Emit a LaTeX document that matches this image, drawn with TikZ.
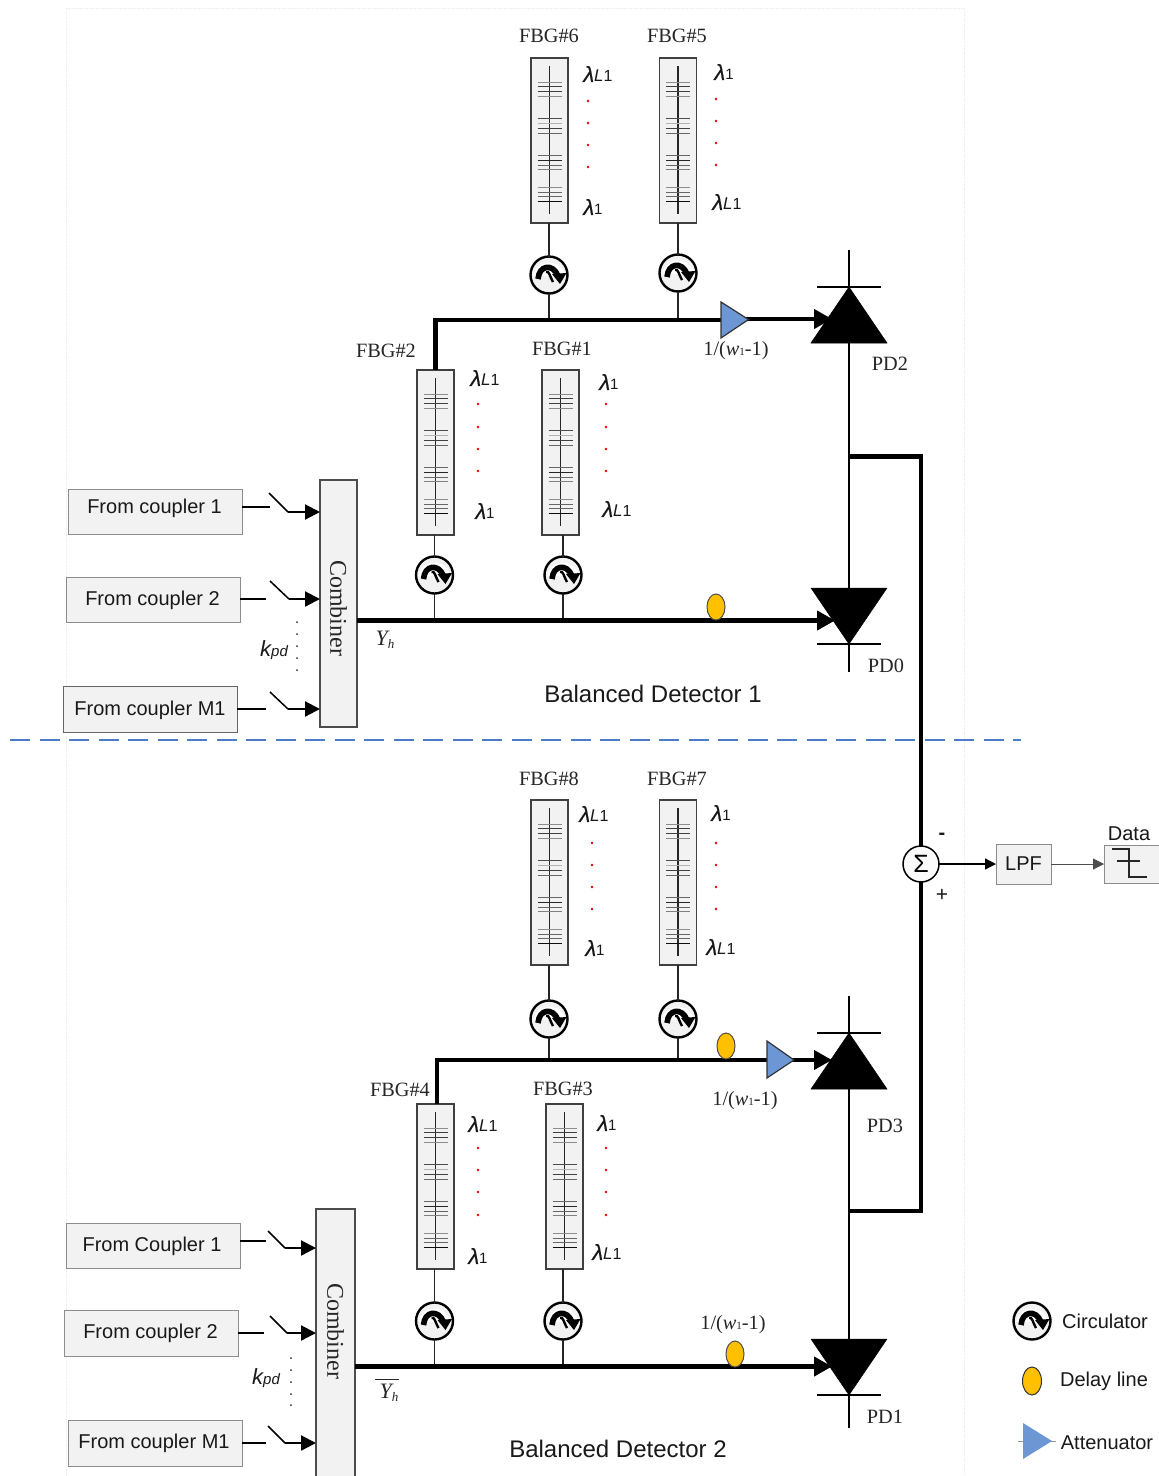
\documentclass[tikz,border=0pt]{standalone}
\usepackage{fontspec}
\setmainfont{Liberation Sans}
\newfontfamily\serifface{Liberation Serif}
\newfontfamily\lamface[FakeBold=0.5]{Liberation Sans Italic}
\usetikzlibrary{arrows.meta,calc}
\definecolor{boxfill}{HTML}{F2F2F2}
\definecolor{boxedge}{HTML}{8C8C8C}
\definecolor{triblue}{HTML}{6C97D4}
\definecolor{dashblue}{HTML}{4A7CC8}
\definecolor{delayfill}{HTML}{FFC000}
\definecolor{framefaint}{HTML}{EDEDED}
\tikzset{
  sanslabel/.style={font=\fontsize{20}{24}\selectfont,inner sep=0pt,text=black!90},
  srctext/.style={sanslabel,yshift=-1.5pt},
  seriflabel/.style={font=\serifface\fontsize{20.3}{24}\selectfont,inner sep=0pt,text=black!85},
  lamlabel/.style={font=\fontsize{20}{24}\selectfont,inner sep=0pt,text=black!90,yshift=1pt},
  fbgbox/.style={draw=black!75,fill=boxfill,line width=1.4pt,minimum width=37pt,minimum height=165pt,inner sep=0pt,outer sep=0pt},
  srcbox/.style={draw=boxedge,fill=boxfill,line width=1pt,minimum width=174pt,minimum height=45pt,inner sep=0pt,outer sep=0pt},
  combbox/.style={draw=black!70,fill=boxfill,line width=1.2pt,inner sep=0pt,outer sep=0pt},
  combtext/.style={inner sep=0pt,rotate=-90,text=black!85,font=\serifface\fontsize{24}{28}\selectfont},
  circbody/.style={circle,draw=black,fill=boxfill,line width=2.4pt,minimum size=37pt,inner sep=0pt,outer sep=0pt},
  thinwire/.style={line width=1.5pt,draw=black!85},
  thickwire/.style={line width=4.2pt,draw=black},
  midwire/.style={line width=2.2pt,draw=black},
  headtip/.style={-{Triangle[length=15pt,width=15pt]}},
  bigtip/.style={-{Triangle[length=18pt,width=19pt]}},
  smalltip/.style={-{Triangle[length=11pt,width=11pt]}},
  attenuator/.style={fill=triblue,draw=black!80,line width=1.2pt,line join=miter},
  reddot/.style={fill=red!90!black,draw=none},
  diode/.style={fill=black,draw=black,line width=.5pt,line join=miter},
}
\newcommand{\lamA}{{\lamface\fontsize{22}{24}\selectfont λ}{\fontsize{15}{16}\selectfont 1}}
\newcommand{\lamL}{{\lamface\fontsize{22}{24}\selectfont λ}{\fontsize{17}{20}\selectfont\itshape L}{\fontsize{16}{20}\selectfont 1}}
\newcommand{\wfrac}{1/({\itshape w}{\fontsize{11}{12}\selectfont 1}-1)}
% \fbgunit{name}{centre x}{top y}{title}{title x}{title y}
\newcommand{\fbgunit}[6]{%
  \node[fbgbox] (#1) at (#2,#3+82.5) {};
  \draw[line width=1.5pt,black!85] (#2,#3+8) -- (#2,#3+156);
  \foreach \o/\s in {24/45,28/75,33/75,38/45,60/70,65/30,70/75,75/60,97/60,102/85,107/60,111/50,129/45,134/60,138/60,143/95}
    \draw[line width=1pt,black!\s] (#2-12,#3+\o) -- (#2+12,#3+\o);
  \node[seriflabel] (#1t) at (#5,#6) {#4};
}
% \circunit{name}{x}{y}
\newcommand{\circunit}[3]{%
  \node[circbody] (#1) at (#2,#3) {};
  \fill[white] (#2-16,#3+1) arc[start angle=190,end angle=350,radius=16.3] -- cycle;
  \draw[black,line width=5.6pt] (#2-11,#3+4) .. controls (#2-10,#3-10) and (#2+4,#3-12) .. (#2+9,#3+1);
  \fill[black] (#2+3,#3-1) -- (#2+17.5,#3-2) -- (#2+11,#3+9) -- cycle;
  \draw[black,line width=2.4pt] (#2-3,#3-3) .. controls (#2,#3-5) and (#2+1,#3+2) .. (#2+4,#3+7);
}
% \reddots{x}{y1}{y2}{y3}{y4}
\newcommand{\reddots}[5]{%
  \foreach \yy in {#2,#3,#4,#5} \fill[reddot] (#1,\yy) circle[radius=1.3pt];
}
% \switchin{source}{target}{stub end x}{stub y}{blade top x}{blade top y}{blade end x}{arrow y}
\newcommand{\switchin}[8]{%
  \draw[midwire] (#1.east |- 0,#4) -- (#3,#4);
  \draw[line width=1.5pt] (#5,#6) -- (#7,#8);
  \draw[midwire,headtip] (#7,#8) -- (#2 |- 0,#8);
}
\newcommand{\pdup}[2]{%
  \fill[diode] (#1,#2) -- (#1+38,#2+56) -- (#1-38,#2+56) -- cycle;
  \draw[midwire] (#1-32,#2) -- (#1+32,#2);
}
\newcommand{\pddown}[2]{%
  \fill[diode] (#1,#2) -- (#1+38,#2-56) -- (#1-38,#2-56) -- cycle;
  \draw[midwire] (#1-32,#2) -- (#1+32,#2);
}
\begin{document}
\begin{tikzpicture}[x=1pt,y=-1pt]
\useasboundingbox (0,0) rectangle (1159,1476);
\fill[white] (0,0) rectangle (1159,1476);
% faint frame
\draw[framefaint,line width=.7pt,densely dotted] (66,1476) -- (66,8) -- (964,8) -- (964,1476);

% ---------- FBG units ----------
\fbgunit{f6}{549.5}{58}{FBG\#6}{549}{36}
\fbgunit{f5}{678}{58}{FBG\#5}{677}{36}
\fbgunit{f2}{435.5}{370}{FBG\#2}{386}{351}
\fbgunit{f1}{560.5}{370}{FBG\#1}{562}{349}
\fbgunit{f8}{549.5}{800}{FBG\#8}{549}{779}
\fbgunit{f7}{678}{800}{FBG\#7}{677}{779}
\fbgunit{f4}{435.5}{1104}{FBG\#4}{400}{1090}
\fbgunit{f3}{564.5}{1104}{FBG\#3}{563}{1089}

\reddots{588}{101}{123}{145}{167}
\reddots{716}{99}{121}{143}{165}
\reddots{478}{404}{427}{449}{471}
\reddots{606}{404}{427}{449}{471}
\reddots{592}{843}{865}{887}{909}
\reddots{716}{843}{865}{887}{909}
\reddots{478}{1148}{1170}{1192}{1215}
\reddots{606}{1148}{1170}{1192}{1215}

\node[lamlabel] (l6a) at (598,75) {\lamL};
\node[lamlabel] (l6b) at (593,208) {\lamA};
\node[lamlabel] (l5a) at (724,73) {\lamA};
\node[lamlabel] (l5b) at (727,203) {\lamL};
\node[lamlabel] (l2a) at (485,379) {\lamL};
\node[lamlabel] (l2b) at (485,512) {\lamA};
\node[lamlabel] (l1a) at (609,383) {\lamA};
\node[lamlabel] (l1b) at (617,510) {\lamL};
\node[lamlabel] (l8a) at (594,815) {\lamL};
\node[lamlabel] (l8b) at (595,949) {\lamA};
\node[lamlabel] (l7a) at (721,814) {\lamA};
\node[lamlabel] (l7b) at (721,948) {\lamL};
\node[lamlabel] (l4a) at (483,1125) {\lamL};
\node[lamlabel] (l4b) at (478,1257) {\lamA};
\node[lamlabel] (l3a) at (607,1124) {\lamA};
\node[lamlabel] (l3b) at (607,1253) {\lamL};

% ---------- circulators ----------
\circunit{c6}{549}{275}
\circunit{c5}{678}{273}
\circunit{c2}{434.5}{575}
\circunit{c1}{563}{575}
\circunit{c8}{549}{1019}
\circunit{c7}{678}{1019}
\circunit{c4}{434.5}{1321}
\circunit{c3}{563}{1321}
\circunit{clegend}{1032}{1321}

% bus anchor points
\coordinate (busA) at (678,320);
\coordinate (busB) at (563,620.5);
\coordinate (busC) at (678,1060);
\coordinate (busD) at (563,1366.5);

\draw[thinwire] (c6.north) -- (c6.north |- f6.south);
\draw[thinwire] (c5.north) -- (c5.north |- f5.south);
\draw[thinwire] (c2.north) -- (c2.north |- f2.south);
\draw[thinwire] (c1.north) -- (c1.north |- f1.south);
\draw[thinwire] (c8.north) -- (c8.north |- f8.south);
\draw[thinwire] (c7.north) -- (c7.north |- f7.south);
\draw[thinwire] (c4.north) -- (c4.north |- f4.south);
\draw[thinwire] (c3.north) -- (c3.north |- f3.south);
\draw[thinwire] (c6.south) -- (c6.south |- busA);
\draw[thinwire] (c5.south) -- (c5.south |- busA);
\draw[thinwire] (c2.south) -- (c2.south |- busB);
\draw[thinwire] (c1.south) -- (c1.south |- busB);
\draw[thinwire] (c8.south) -- (c8.south |- busC);
\draw[thinwire] (c7.south) -- (c7.south |- busC);
\draw[thinwire] (c4.south) -- (c4.south |- busD);
\draw[thinwire] (c3.south) -- (c3.south |- busD);

% ---------- photodiode rails ----------
\coordinate (pd2top) at (849,250);
\coordinate (pd0end) at (849,672);
\coordinate (pd3top) at (849,996);
\coordinate (pd1end) at (849,1428);
\draw[line width=2.4pt] (pd2top) -- (pd0end);
\draw[line width=2.4pt] (pd3top) -- (pd1end);
\pdup{849}{287}
\pddown{849}{644}
\pdup{849}{1033}
\pddown{849}{1395}

% ---------- sum, LPF, Data ----------
\node[circle,draw=black,fill=boxfill!40,line width=1.5pt,minimum size=36pt,inner sep=0pt,outer sep=0pt,font=\fontsize{25}{26}\selectfont] (sum) at (921,864) {Σ};
\node[draw=boxedge,fill=boxfill,line width=1pt,minimum width=55pt,minimum height=40pt,inner sep=0pt,outer sep=0pt,font=\fontsize{20}{24}\selectfont,text=black!90] (lpf) at (1023.5,864) {LPF};
\node[draw=boxedge,fill=boxfill,line width=1pt,minimum width=55pt,minimum height=38pt,inner sep=0pt,outer sep=0pt] (data) at (1131.5,864) {};
\node[sanslabel] (datat) at (1129,834) {Data};
\draw[line width=1.2pt,black!85] (1112,849) -- (1129,849) -- (1129,877) -- (1147,877);
\draw[line width=1.2pt,black!85] (1117,861) -- (1140,861);
\coordinate (j1) at (849,456.5);
\coordinate (j2) at (849,1211);
\draw[thickwire,line join=miter] (j1) -- (921,456.5) -- (sum.north);
\draw[thickwire,line join=miter] (j2) -- (921,1211) -- (sum.south);
\draw[line width=1.3pt,smalltip] (sum.east) -- (lpf.west);
\draw[line width=1pt,draw=black!70,smalltip] (lpf.east) -- (data.west);
\node[sanslabel,font=\bfseries\fontsize{20}{24}\selectfont] (minus) at (942,836) {-};
\node[sanslabel,font=\fontsize{21}{24}\selectfont] (plus) at (942,895) {+};

% ---------- combiners and sources ----------
\node[combbox,minimum width=37pt,minimum height=247pt] (comb1) at (338.5,603.5) {};
\node[combtext] (comb1t) at (338.5,608) {Combiner};
\node[combbox,minimum width=39pt,minimum height=270pt] (comb2) at (335.5,1344) {};
\node[combtext] (comb2t) at (335.5,1331) {Combiner};

\node[srcbox] (s1) at (155,511.5) {};
\node[srctext] (s1t) at (154.5,507) {From coupler 1};
\node[srcbox] (s2) at (153,599.5) {};
\node[srctext] (s2t) at (152.5,598.5) {From coupler 2};
\node[srcbox,minimum height=46pt,draw=black!60] (s3) at (150,709) {};
\node[srctext] (s3t) at (150,709) {From coupler M1};
\node[srcbox] (s4) at (153,1245.5) {};
\node[srctext] (s4t) at (152,1245) {From Coupler 1};
\node[srcbox,minimum height=46pt] (s5) at (151,1333) {};
\node[srctext] (s5t) at (150.5,1332) {From coupler 2};
\node[srcbox,minimum height=46pt] (s6) at (155,1443) {};
\node[srctext] (s6t) at (154,1442) {From coupler M1};

\switchin{s1}{comb1.west}{270}{507}{269}{493}{288}{512}
\switchin{s2}{comb1.west}{266}{599}{270}{581}{289}{599}
\switchin{s3}{comb1.west}{266}{709}{270}{692}{288}{709}
\switchin{s4}{comb2.west}{266}{1241}{268}{1231}{285}{1248}
\switchin{s5}{comb2.west}{264}{1333}{270}{1316}{287}{1333}
\switchin{s6}{comb2.west}{266}{1443}{268}{1426}{285}{1443}

\foreach \yy in {622,634,646,658,670} \fill[black!80] (297,\yy) circle[radius=1pt];
\foreach \yy in {1358,1370,1382,1394,1405} \fill[black!80] (291,\yy) circle[radius=1pt];
\node[sanslabel] (k1) at (274,650) {{\fontsize{22}{24}\selectfont\itshape k}{\fontsize{15}{18}\selectfont\itshape pd}};
\node[sanslabel] (k2) at (266,1378) {{\fontsize{22}{24}\selectfont\itshape k}{\fontsize{15}{18}\selectfont\itshape pd}};

% ---------- thick buses ----------
\coordinate (attA) at (734,320);
\coordinate (attC) at (780,1060);
\draw[thickwire,line join=miter] (f2.north) -- (435.5,320) -- (attA);
\draw[thickwire] (attA) -- (748,319);
\draw[thickwire,bigtip] (748,319) -- (832,319);
\draw[thickwire,line join=miter,line width=3.8pt] (f4.north -| 437,0) -- (437,1060) -- (attC);
\draw[thickwire,line width=3.8pt,bigtip] (attC) -- (832,1060);
\draw[thickwire,bigtip] (comb1.east |- busB) -- (835,620.5);
\draw[thickwire,bigtip] (comb2.east |- busD) -- (832,1366.5);
\filldraw[attenuator] (721,302) -- (748.5,319.5) -- (721,338) -- cycle;
\filldraw[attenuator] (767,1041) -- (794,1060) -- (767,1078) -- cycle;

% delay lines
\filldraw[delayfill,draw=black!70,line width=1pt] (716,607) ellipse[x radius=9,y radius=13];
\filldraw[delayfill,draw=black!70,line width=1pt] (726,1046) ellipse[x radius=9,y radius=13];
\filldraw[delayfill,draw=black!70,line width=1pt] (735,1354) ellipse[x radius=9,y radius=13];

% blue separator
\draw[dashblue,line width=2.2pt,dash pattern=on 20pt off 9.5pt] (10,740) -- (1021,740);

% ---------- labels ----------
\node[seriflabel] (w1) at (736,351) {\wfrac};
\node[seriflabel] (w2) at (745,1101) {\wfrac};
\node[seriflabel] (w3) at (733,1325) {\wfrac};
\node[seriflabel] (p2) at (890,364) {PD2};
\node[seriflabel] (p0) at (886,666) {PD0};
\node[seriflabel] (p3) at (885,1126) {PD3};
\node[seriflabel] (p1) at (885,1417) {PD1};
\node[sanslabel,font=\fontsize{24}{28}\selectfont] (bd1) at (653,694) {Balanced Detector 1};
\node[sanslabel,font=\fontsize{24}{28}\selectfont] (bd2) at (618,1449) {Balanced Detector 2};
\node[seriflabel,font=\serifface\fontsize{22}{24}\selectfont] (y1) at (385,640) {{\itshape Y}{\fontsize{13}{15}\selectfont\raisebox{-3pt}{\itshape h}}};
\node[seriflabel,font=\serifface\fontsize{22}{24}\selectfont] (y2) at (389,1393) {{\itshape Y}{\fontsize{13}{15}\selectfont\raisebox{-3pt}{\itshape h}}};
\draw[line width=1pt,black!85] (375,1379) -- (399,1379);

% ---------- legend ----------
\node[sanslabel] (lg1) at (1105,1321) {Circulator};
\filldraw[delayfill,draw=black!80,line width=1pt] (1032,1381) ellipse[x radius=9.5,y radius=14];
\node[sanslabel] (lg2) at (1104,1381) {Delay line};
\draw[line width=.7pt,black!40] (1018,1441) -- (1056,1441);
\fill[triblue] (1023,1423) -- (1052,1441) -- (1023,1459) -- cycle;
\node[sanslabel] (lg3) at (1107,1443) {Attenuator};
\end{tikzpicture}
\end{document}
